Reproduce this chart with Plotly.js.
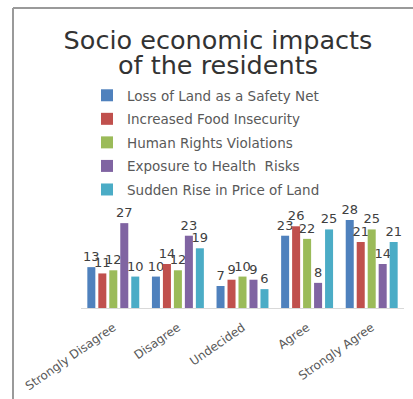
<!DOCTYPE html>
<html>
<head>
<meta charset="utf-8">
<script src="https://cdn.plot.ly/plotly-3.0.1.min.js"></script>
<style>
html,body{margin:0;padding:0;background:#fff;}
#chart{width:413px;height:399px;}
</style>
</head>
<body>
<div id="chart"></div>
<script>
var categories = ["Strongly Disagree", "Disagree", "Undecided", "Agree", "Strongly Agree"];
var seriesNames = ["Loss of Land as a Safety Net", "Increased Food Insecurity", "Human Rights Violations", "Exposure to Health  Risks", "Sudden Rise in Price of Land"];
var lossOfLand = [13, 10, 7, 23, 28];
var foodInsecurity = [11, 14, 9, 26, 21];
var humanRights = [12, 12, 10, 22, 25];
var healthRisks = [27, 23, 9, 8, 14];
var priceOfLand = [10, 19, 6, 25, 21];
var seriesValues = [lossOfLand, foodInsecurity, humanRights, healthRisks, priceOfLand];
var colors = ["#4F81BD", "#C0504D", "#9BBB59", "#8064A2", "#4BACC6"];
var titleLine1 = "Socio economic impacts";
var titleLine2 = "of the residents";

var font = "'DejaVu Sans', sans-serif";
var traces = seriesValues.map(function (vals, i) {
  return {
    type: "bar",
    name: seriesNames[i],
    x: categories,
    y: vals,
    text: vals.map(String),
    textposition: "outside",
    constraintext: "none",
    cliponaxis: false,
    textangle: 0,
    textfont: {family: font, size: 13, color: "#404040"},
    marker: {color: colors[i]},
    legendgroup: "g" + i,
    hoverinfo: "none"
  };
});

var layout = {
  width: 413,
  height: 399,
  margin: {l: 81, r: 9, t: 198, b: 91},
  paper_bgcolor: "#ffffff",
  plot_bgcolor: "#ffffff",
  barmode: "group",
  bargap: 0.15,
  bargroupgap: 0.27,
  showlegend: true,
  title: {
    text: titleLine1,
    font: {family: font, size: 25.5, color: "#333333"},
    x: 218 / 413,
    xref: "container",
    xanchor: "center",
    y: 1 - 40 / 399,
    yref: "container",
    yanchor: "middle"
  },
  annotations: [
    {text: titleLine2, showarrow: false, xref: "paper", yref: "paper",
     x: (218 - 81) / 323, y: (308 - 65) / 110, xanchor: "center", yanchor: "middle",
     font: {family: font, size: 25.5, color: "#333333"}}
  ],
  legend: {
    x: (87 - 81) / 323,
    xanchor: "left",
    y: (308 - 80) / 110,
    yanchor: "top",
    tracegroupgap: 3,
    font: {family: font, size: 13.5, color: "#595959"},
    bgcolor: "rgba(0,0,0,0)"
  },
  xaxis: {
    type: "category",
    showline: true,
    linecolor: "#d9d9d9",
    linewidth: 1,
    ticks: "",
    tickangle: -35,
    ticklabelstandoff: 7,
    tickfont: {family: font, size: 12, color: "#595959"},
    showgrid: false,
    zeroline: false,
    fixedrange: true
  },
  yaxis: {
    range: [0, 35],
    visible: false,
    showgrid: false,
    zeroline: false,
    fixedrange: true
  },
  shapes: [
    {type: "line", xref: "paper", yref: "paper",
     x0: (13 - 81) / 323, x1: (13 - 81) / 323, y0: (308 - 8) / 110, y1: (308 - 399) / 110,
     line: {color: "#9a9a9a", width: 2}},
    {type: "line", xref: "paper", yref: "paper",
     x0: (13 - 81) / 323, x1: (413 - 81) / 323, y0: (308 - 8) / 110, y1: (308 - 8) / 110,
     line: {color: "#9a9a9a", width: 2}}
  ]
};

Plotly.newPlot("chart", traces, layout, {displayModeBar: false, staticPlot: true});
</script>
</body>
</html>
